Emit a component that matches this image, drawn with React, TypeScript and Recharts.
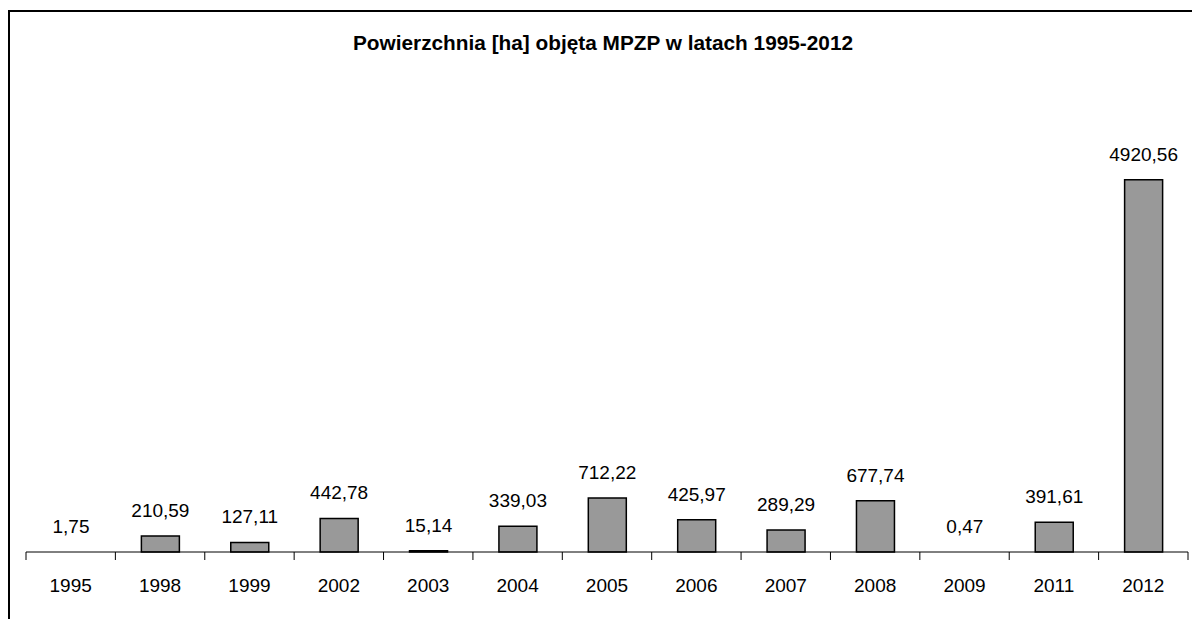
import React from 'react';
import { BarChart, Bar, XAxis, YAxis, LabelList, Rectangle } from 'recharts';

const years = ['1995', '1998', '1999', '2002', '2003', '2004', '2005', '2006', '2007', '2008', '2009', '2011', '2012'];
const areas = [1.75, 210.59, 127.11, 442.78, 15.14, 339.03, 712.22, 425.97, 289.29, 677.74, 0.47, 391.61, 4920.56];
const title = 'Powierzchnia [ha] objęta MPZP w latach 1995-2012';
const yMax = 6000;

const data = years.map((year, i) => ({ year, area: areas[i] }));

const FONT = '"Liberation Sans", Arial, sans-serif';

const fmt = (v: any) => Number(v).toFixed(2).replace('.', ',');

const Tick = (props: any) => {
  const { x, y, payload, index } = props;
  const off = payload && payload.offset != null ? payload.offset : 0;
  return (
    <g>
      <line x1={x - off} x2={x - off} y1={y} y2={y + 8} stroke="#000" strokeWidth={1} />
      {index === years.length - 1 && (
        <line x1={x + off} x2={x + off} y1={y} y2={y + 8} stroke="#000" strokeWidth={1} />
      )}
      <text x={x} y={y + 40} textAnchor="middle" fontSize={19} fill="#000" fontFamily={FONT}>
        {payload.value}
      </text>
    </g>
  );
};

const BarShape = (props: any) => {
  if (!props.height || Math.abs(props.height) < 0.5) return null;
  return <Rectangle {...props} />;
};

export default function App() {
  return (
    <div style={{ position: 'absolute', left: 0, top: 0, width: 1192, height: 619, overflow: 'hidden', background: '#fff' }}>
      <div
        style={{
          position: 'absolute',
          left: 8,
          top: 10,
          width: 1400,
          height: 800,
          border: '2px solid #000',
        }}
      />
      <div
        style={{
          position: 'absolute',
          left: 0,
          top: 31,
          width: 1206,
          textAlign: 'center',
          fontFamily: FONT,
          fontWeight: 'bold',
          fontSize: 20.8,
          color: '#000',
          whiteSpace: 'nowrap',
        }}
      >
        {title}
      </div>
      <div style={{ position: 'absolute', left: 0, top: 0 }}>
        <BarChart
          width={1192}
          height={619}
          data={data}
          margin={{ top: 98, right: 4, bottom: 37, left: 26 }}
          barSize={38}
        >
          <XAxis
            dataKey="year"
            height={30}
            interval={0}
            tickLine={false}
            tickSize={0}
            tickMargin={0}
            axisLine={{ stroke: '#000', strokeWidth: 1 }}
            tick={<Tick />}
          />
          <YAxis hide domain={[0, yMax]} />
          <Bar
            dataKey="area"
            fill="#999999"
            stroke="#000"
            strokeWidth={1.5}
            shape={<BarShape />}
            isAnimationActive={false}
          >
            <LabelList
              dataKey="area"
              position="top"
              offset={19}
              formatter={fmt}
              style={{ fontFamily: FONT, fontSize: 19, fill: '#000' }}
            />
          </Bar>
        </BarChart>
      </div>
    </div>
  );
}
